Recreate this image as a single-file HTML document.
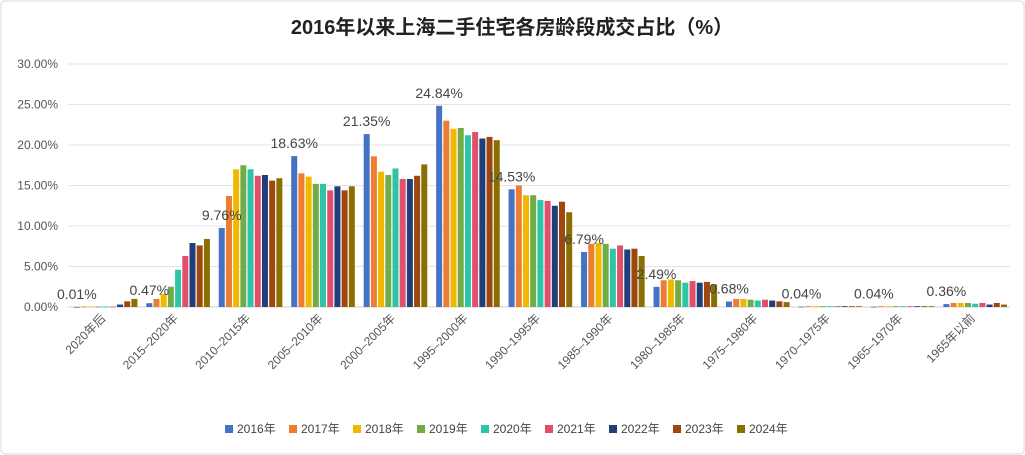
<!DOCTYPE html>
<html><head><meta charset="utf-8"><style>
body{margin:0;background:#fff;}
svg{display:block;font-family:"Liberation Sans","Noto Sans CJK SC",sans-serif;}
</style></head><body>
<svg id="c" width="1025" height="455">
<rect x="1" y="1" width="1023" height="453" rx="4" fill="#fff" stroke="#d9d9d9"/>
<text x="512" y="34" text-anchor="middle" font-size="20" font-weight="bold" fill="#222">2016年以来上海二手住宅各房龄段成交占比（%）</text>
<g id="grid"></g><g id="bars"></g><g id="labels"></g><g id="legend"></g>
</svg>
<script>
const categories=["2020年后","2015-2020年","2010-2015年","2005-2010年","2000-2005年","1995-2000年","1990-1995年","1985-1990年","1980-1985年","1975-1980年","1970-1975年","1965-1970年","1965年以前"];
const years=["2016年","2017年","2018年","2019年","2020年","2021年","2022年","2023年","2024年"];
const s2016=[0.01,0.47,9.76,18.63,21.35,24.84,14.53,6.79,2.49,0.68,0.04,0.04,0.36];
const s2017=[0.05,1.0,13.7,16.5,18.6,23.0,15.0,7.8,3.3,1.0,0.1,0.1,0.5];
const s2018=[0.05,1.6,17.0,16.1,16.7,22.0,13.8,7.9,3.4,1.0,0.1,0.1,0.5];
const s2019=[0.05,2.5,17.5,15.2,16.3,22.1,13.8,7.8,3.3,0.9,0.1,0.1,0.5];
const s2020=[0.05,4.6,17.0,15.2,17.1,21.2,13.2,7.2,3.0,0.8,0.1,0.1,0.4];
const s2021=[0.05,6.3,16.2,14.4,15.8,21.6,13.1,7.6,3.2,0.9,0.1,0.1,0.5];
const s2022=[0.3,7.9,16.3,14.9,15.8,20.8,12.5,7.1,3.0,0.8,0.1,0.1,0.3];
const s2023=[0.7,7.6,15.6,14.4,16.2,21.0,13.0,7.2,3.1,0.7,0.1,0.1,0.5];
const s2024=[1.0,8.4,15.9,14.9,17.6,20.6,11.7,6.3,2.8,0.6,0.1,0.1,0.3];
const series=[s2016,s2017,s2018,s2019,s2020,s2021,s2022,s2023,s2024];
const yTicks=[0,5,10,15,20,25,30];
const colors=["#4472C4","#ED7D31","#F2B800","#70AD47","#2EC4A8","#E0506A","#203F7A","#9E480E","#8B6F00"];
const NS="http://www.w3.org/2000/svg";
const X0=68,X1=1010,Y0=307,Y30=64;
const y=v=>Y0-(v/30)*(Y0-Y30);
const gw=(X1-X0)/categories.length;
const bw=6,bs=7.2;
const bx=(i,j)=>X0+2+i*gw+gw/2-(series.length*bs)/2+j*bs;
function mk(t,a,p){const e=document.createElementNS(NS,t);for(const k in a)e.setAttribute(k,a[k]);p.appendChild(e);return e;}
const grid=document.getElementById('grid'),bars=document.getElementById('bars'),labels=document.getElementById('labels'),legend=document.getElementById('legend');
yTicks.forEach(t=>{
 const l=mk('line',{x1:X0,x2:X1,y1:y(t),y2:y(t),stroke:t===0?'#d0d0d0':'#e4e4e4'},grid);
 
 
 const tx=mk('text',{x:X0-10,y:y(t)+4,'text-anchor':'end','font-size':12,fill:'#555'},grid);
 tx.textContent=t.toFixed(2)+'%';
 
 
});
categories.forEach((c,i)=>{
 series.forEach((s,j)=>{
  const r=mk('rect',{x:bx(i,j),y:y(s[i]),width:bw,height:Math.max(0.8,Y0-y(s[i])),fill:colors[j]},bars);
  
  
 });
 const cx=X0+i*gw+gw/2;
 const t=mk('text',{x:cx+2,y:Y0+12,'text-anchor':'end','font-size':12,fill:'#555',transform:`rotate(-45 ${cx+2} ${Y0+12})`},labels);
 t.textContent=c.replace('-','–');
 
 
 const v=s2016[i];
 const vl=mk('text',{x:bx(i,0)+3,y:y(v)-8,'text-anchor':'middle','font-size':14,fill:'#444'},labels);
 vl.textContent=v.toFixed(2)+'%';
 
 
});
const lw=64,lx0=225;
years.forEach((yr,j)=>{
 const g=mk('g',{},legend);
 
 
 mk('rect',{x:lx0+j*lw,y:425,width:8,height:8,fill:colors[j]},g);
 const t=mk('text',{x:lx0+j*lw+12,y:433,'font-size':12,fill:'#444'},g);
 t.textContent=yr;
});
</script>
</body></html>
